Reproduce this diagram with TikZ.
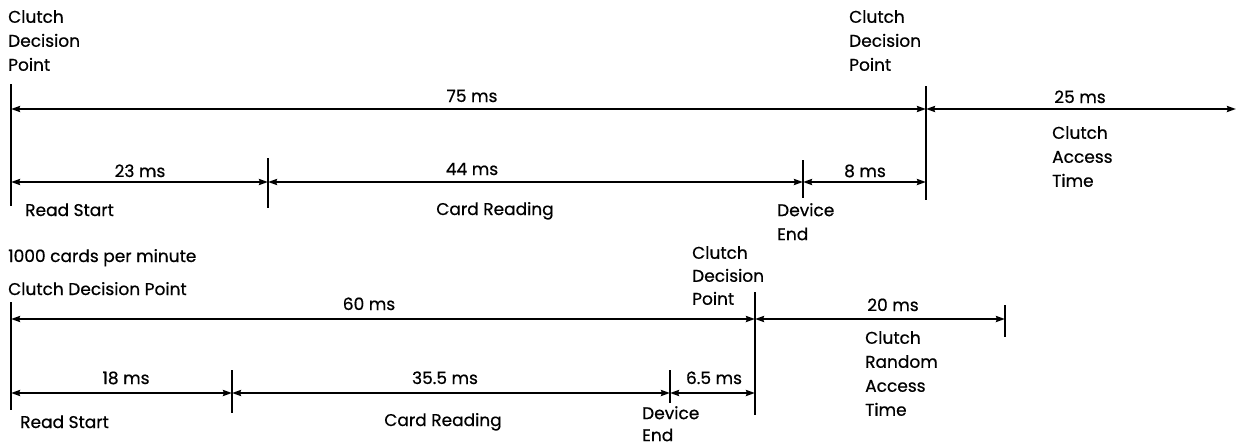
\documentclass[tikz,border=0pt]{standalone}
\usepackage{fontspec}
\setmainfont{Poppins}[BoldFont=Poppins,BoldFeatures={FakeBold=0.6}]
\usetikzlibrary{arrows.meta}
\begin{document}
\begin{tikzpicture}[x=1pt,y=-1pt,
  dim/.style={line width=2.2pt,{Stealth[length=9pt,width=6pt,inset=1pt]}-{Stealth[length=9pt,width=6pt,inset=1pt]}},
  tick/.style={line width=1.3pt},
  lbl/.style={inner sep=0pt,font=\fontsize{17}{24}\selectfont\bfseries},
  ml/.style={lbl,align=left,anchor=north west}]
\useasboundingbox (0,0) rectangle (1237,447);
% ---------- top diagram ----------
\coordinate (a1) at (11,109); \coordinate (a2) at (926,109); \coordinate (a3) at (1236,109);
\coordinate (b0) at (11,182); \coordinate (b1) at (268,182); \coordinate (b2) at (803,182); \coordinate (b3) at (926,182);
\coordinate (v0t) at (11,84);   \coordinate (v0b) at (11,206);
\coordinate (v3t) at (926,86);  \coordinate (v3b) at (926,200);
\coordinate (v1t) at (268,158); \coordinate (v1b) at (268,208);
\coordinate (v2t) at (803,160); \coordinate (v2b) at (803,198);
\draw[tick] (v0t) -- (v0b);
\draw[tick] (v3t) -- (v3b);
\draw[tick] (v1t) -- (v1b);
\draw[tick] (v2t) -- (v2b);
\draw[dim] (a1) -- (a2);
\draw[dim] (a2) -- (a3);
\draw[dim] (b0) -- (b1);
\draw[dim] (b1) -- (b2);
\draw[dim] (b2) -- (b3);
\node[ml] (cdp1) at (8,10) {Clutch\\Decision\\Point};
\node[ml] (cdp2) at (849,10) {Clutch\\Decision\\Point};
\node[lbl,anchor=base] (t75) at (472,102) {75 ms};
\node[lbl,anchor=base] (t25) at (1080,103) {25 ms};
\node[ml] (cat) at (1052,126) {Clutch\\Access\\Time};
\node[lbl,anchor=base] (t23) at (140,177) {23 ms};
\node[lbl,anchor=base] (t44) at (472,175) {44 ms};
\node[lbl,anchor=base] (t8) at (865,177) {8 ms};
\node[lbl,anchor=base west] (rs1) at (25,216) {Read Start};
\node[lbl,anchor=base] (cr1) at (495,215) {Card Reading};
\node[ml] (de1) at (777,203) {Device\\End};
% ---------- bottom diagram ----------
\node[lbl,anchor=base west] (cpm) at (8,262) {1000 cards per minute};
\node[lbl,anchor=base west] (cdp3) at (8,295) {Clutch Decision Point};
\coordinate (c1) at (11,319); \coordinate (c2) at (755,319); \coordinate (c3) at (1005,319);
\coordinate (d0) at (11,393); \coordinate (d1) at (232,393); \coordinate (d2) at (670,393); \coordinate (d3) at (755,393);
\coordinate (w0t) at (11,302);   \coordinate (w0b) at (11,410);
\coordinate (w3t) at (755,292);  \coordinate (w3b) at (755,415);
\coordinate (w4t) at (1005,305); \coordinate (w4b) at (1005,337);
\coordinate (w1t) at (232,370);  \coordinate (w1b) at (232,413);
\coordinate (w2t) at (670,370);  \coordinate (w2b) at (670,403);
\draw[tick] (w0t) -- (w0b);
\draw[tick] (w3t) -- (w3b);
\draw[tick] (w4t) -- (w4b);
\draw[tick] (w1t) -- (w1b);
\draw[tick] (w2t) -- (w2b);
\draw[dim] (c1) -- (c2);
\draw[dim] (c2) -- (c3);
\draw[dim] (d0) -- (d1);
\draw[dim] (d1) -- (d2);
\draw[dim] (d2) -- (d3);
\node[ml,font=\fontsize{17}{23}\selectfont\bfseries] (cdp4) at (692,246) {Clutch\\Decision\\Point};
\node[lbl,anchor=base] (t60) at (369,310) {60 ms};
\node[lbl,anchor=base] (t20) at (893,311) {20 ms};
\node[ml] (crat) at (865,331) {Clutch\\Random\\Access\\Time};
\node[lbl,anchor=base] (t18) at (126,384) {18 ms};
\node[lbl,anchor=base] (t355) at (445,384) {35.5 ms};
\node[lbl,anchor=base] (t65) at (714,384) {6.5 ms};
\node[lbl,anchor=base west] (rs2) at (20,428) {Read Start};
\node[lbl,anchor=base] (cr2) at (443,426) {Card Reading};
\node[ml,font=\fontsize{17}{22}\selectfont\bfseries] (de2) at (642,406) {Device\\End};
\end{tikzpicture}
\end{document}
